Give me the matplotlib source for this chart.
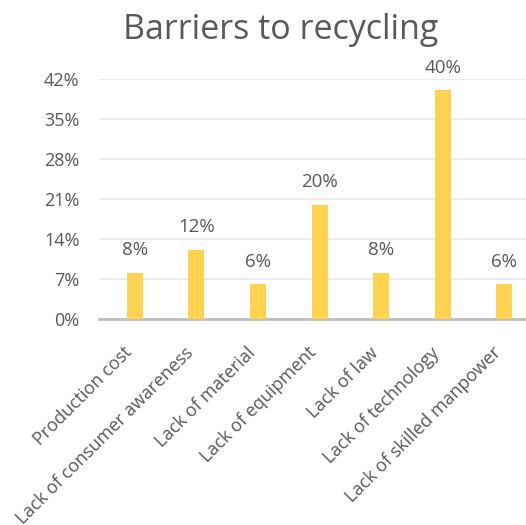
import matplotlib.pyplot as plt
from matplotlib.ticker import FuncFormatter
from matplotlib.transforms import ScaledTranslation

categories = ["Production cost", "Lack of consumer awareness", "Lack of material",
              "Lack of equipment", "Lack of law", "Lack of technology",
              "Lack of skilled manpower"]
values = [8, 12, 6, 20, 8, 40, 6]
yticks = [0, 7, 14, 21, 28, 35, 42]

bar_color = "#FFD34F"
text_color = "#595959"

plt.rcParams['font.family'] = ['Open Sans', 'DejaVu Sans']

fig = plt.figure(figsize=(5.26, 5.25), dpi=100)
ax = fig.add_axes([99 / 526, 1 - 318.7 / 525, 1 - 99 / 526, (318.7 - 79) / 525])

x = list(range(len(categories)))
ax.bar(x, values, width=0.26, color=bar_color, zorder=3)

# value labels above the bars
for xi, v in zip(x, values):
    ax.annotate("%d%%" % v, (xi, v), xytext=(0, 10), textcoords="offset points",
                ha="center", va="bottom", fontsize=13.5, color=text_color)

ax.set_ylim(0, 42)
ax.set_xlim(-0.58, 6.35)
ax.set_yticks(yticks)
ax.yaxis.set_major_formatter(FuncFormatter(lambda v, p: "%d%%" % v))
ax.set_xticks(x)
ax.set_xticklabels(categories, rotation=45, ha="right", rotation_mode="anchor")

ax.grid(axis="y", color="#E8E8E8", linewidth=1.2, zorder=0)
for s in ["top", "right", "left"]:
    ax.spines[s].set_visible(False)
ax.spines["bottom"].set_color("#BFBFBF")
ax.spines["bottom"].set_linewidth(2)
ax.tick_params(axis="both", length=0, labelsize=13, colors=text_color)
ax.tick_params(axis="y", pad=14)
ax.tick_params(axis="x", pad=18)
shift = ScaledTranslation(-12 / 100, 0, fig.dpi_scale_trans)
for lab in ax.get_xticklabels():
    lab.set_transform(lab.get_transform() + shift)

fig.text(281 / 526, 1 - 30 / 525, "Barriers to recycling", ha="center", va="center",
         fontsize=24.5, color=text_color)

fig.savefig("out.png", dpi=100)
